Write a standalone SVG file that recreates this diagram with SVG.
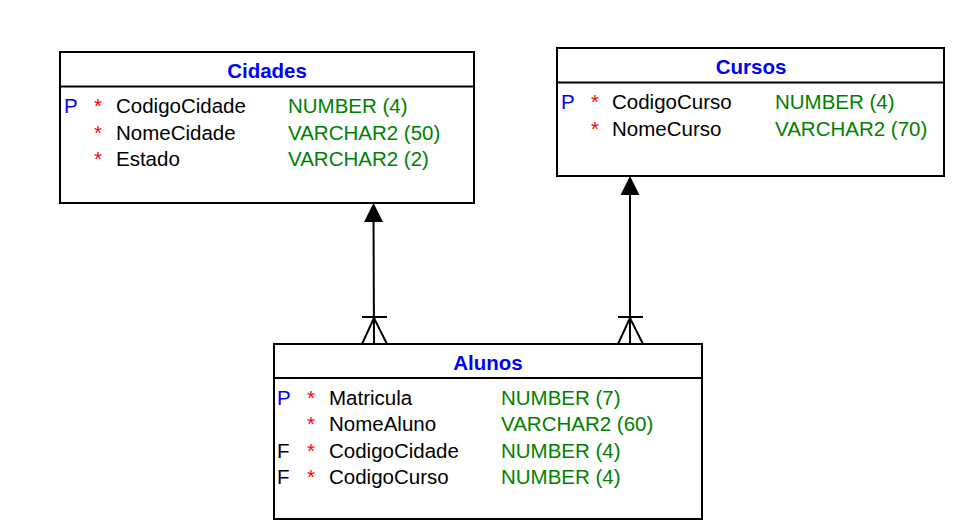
<svg xmlns="http://www.w3.org/2000/svg" width="957" height="531" viewBox="0 0 957 531">
<defs>
<style>
.box{fill:#fff;stroke:#000;stroke-width:2}
.div{stroke:#000;stroke-width:2}
text{font-family:"Liberation Sans",Arial,sans-serif;font-size:20.5px}
.title{font-weight:bold;fill:#0000ff;text-anchor:middle}
.pk{fill:#0000ff}
.fk{fill:#000}
.req{fill:#ff0000}
.col{fill:#000}
.type{fill:#008000}
.conn{stroke:#000;stroke-width:2;fill:none}
.head{fill:#000;stroke:none}
</style>
</defs>
<rect width="957" height="531" fill="#fff"/>
<g id="connectors">
<line class="conn" x1="373.5" y1="215" x2="374" y2="344"/>
<polygon class="head" points="373.5,203 364,222 383,222"/>
<line class="conn" x1="362" y1="317" x2="387" y2="317"/>
<path class="conn" d="M362,344 L374,318 L387,344"/>
<line class="conn" x1="630" y1="188" x2="630" y2="344"/>
<polygon class="head" points="630,176 620.5,195 639.5,195"/>
<line class="conn" x1="618" y1="317" x2="643" y2="317"/>
<path class="conn" d="M618,344 L630,318 L643,344"/>
</g>
<g id="Cidades">
<rect class="box" x="60" y="52" width="414" height="151"/>
<line class="div" x1="60" y1="86.5" x2="474" y2="86.5"/>
<text class="title" x="267" y="77.5">Cidades</text>
<text class="pk" x="64" y="113">P</text>
<text class="req" x="94" y="113">*</text>
<text class="col" x="116" y="113">CodigoCidade</text>
<text class="type" x="288" y="113">NUMBER (4)</text>
<text class="req" x="94" y="139.5">*</text>
<text class="col" x="116" y="139.5">NomeCidade</text>
<text class="type" x="288" y="139.5">VARCHAR2 (50)</text>
<text class="req" x="94" y="165.5">*</text>
<text class="col" x="116" y="165.5">Estado</text>
<text class="type" x="288" y="165.5">VARCHAR2 (2)</text>
</g>
<g id="Cursos">
<rect class="box" x="557" y="48" width="387" height="128"/>
<line class="div" x1="557" y1="82.5" x2="944" y2="82.5"/>
<text class="title" x="751" y="73.5">Cursos</text>
<text class="pk" x="561" y="109">P</text>
<text class="req" x="591" y="109">*</text>
<text class="col" x="612" y="109">CodigoCurso</text>
<text class="type" x="775" y="109">NUMBER (4)</text>
<text class="req" x="591" y="136">*</text>
<text class="col" x="612" y="136">NomeCurso</text>
<text class="type" x="775" y="136">VARCHAR2 (70)</text>
</g>
<g id="Alunos">
<rect class="box" x="274" y="344" width="428" height="175"/>
<line class="div" x1="274" y1="378" x2="702" y2="378"/>
<text class="title" x="488" y="370">Alunos</text>
<text class="pk" x="277" y="405">P</text>
<text class="req" x="307" y="405">*</text>
<text class="col" x="329" y="405">Matricula</text>
<text class="type" x="501" y="405">NUMBER (7)</text>
<text class="req" x="307" y="431">*</text>
<text class="col" x="329" y="431">NomeAluno</text>
<text class="type" x="501" y="431">VARCHAR2 (60)</text>
<text class="fk" x="277" y="457.5">F</text>
<text class="req" x="307" y="457.5">*</text>
<text class="col" x="329" y="457.5">CodigoCidade</text>
<text class="type" x="501" y="457.5">NUMBER (4)</text>
<text class="fk" x="277" y="484">F</text>
<text class="req" x="307" y="484">*</text>
<text class="col" x="329" y="484">CodigoCurso</text>
<text class="type" x="501" y="484">NUMBER (4)</text>
</g>
</svg>
